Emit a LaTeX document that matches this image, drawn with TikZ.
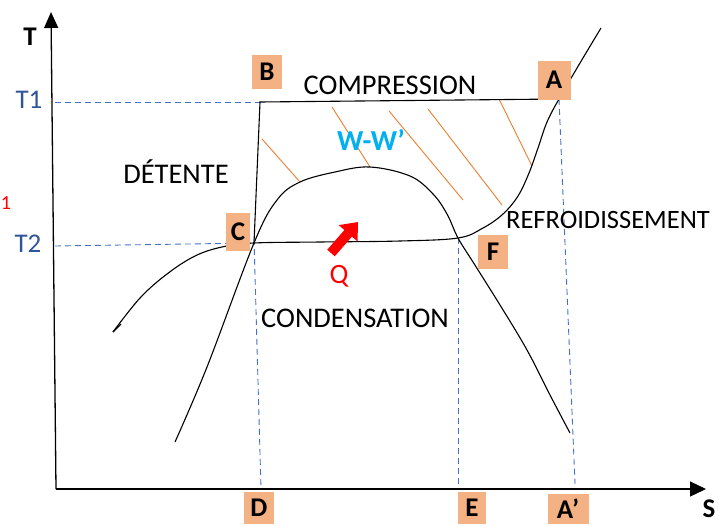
\documentclass[tikz,border=0pt]{standalone}
\usepackage{fontspec}
\setmainfont{Carlito}
\usetikzlibrary{arrows.meta}
\definecolor{boxorange}{HTML}{F4B183}
\definecolor{hatchorange}{HTML}{ED7D31}
\definecolor{tblue}{HTML}{2F5597}
\definecolor{wcyan}{HTML}{00B0F0}
\definecolor{guideblue}{HTML}{4472C4}
\tikzset{
  ptbox/.style={fill=boxorange, inner sep=0pt, minimum width=30pt, minimum height=34pt,
    font=\fontsize{27}{27}\selectfont\bfseries},
  phase/.style={font=\fontsize{28.5}{28.5}\selectfont},
  guide/.style={guideblue, line width=0.9pt, dash pattern=on 6pt off 4pt},
  curve/.style={line width=1.1pt},
  hatch/.style={hatchorange, line width=0.9pt},
}
\begin{document}
\begin{tikzpicture}[>=latex, x=1pt, y=-1pt]
    \useasboundingbox (0,0) rectangle (719,525);
    % points of the cycle
    \coordinate (O) at (56,489);
    \coordinate (B) at (260,102);
    \coordinate (A) at (559,99);
    \coordinate (C) at (254,243);
    \coordinate (E) at (458,238);
    \coordinate (D0) at (261,489);
    \coordinate (E0) at (458,484);
    \coordinate (A0) at (575,484);
    \coordinate (T1) at (55,102);
    \coordinate (T2) at (55,246);
    % axes
    \draw[line width=1.3pt, -{Triangle[length=16pt,width=14pt]}] (O) -- (51,12);
    \draw[line width=1.3pt, -{Triangle[length=16pt,width=15pt]}] (O) -- (706,489);
    \node[font=\fontsize{27}{27}\selectfont\bfseries] (Tlab) at (30,37) {T};
    \node[font=\fontsize{27}{27}\selectfont\bfseries] (Slab) at (709,509) {S};
    \node[tblue, font=\fontsize{27}{27}\selectfont] (T1lab) at (29,100) {T1};
    \node[tblue, font=\fontsize{27}{27}\selectfont] (T2lab) at (28,244) {T2};
    \node[red, font=\fontsize{20}{20}\selectfont] (one) at (6,203) {1};
    % guide lines
    \draw[guide] (T1) -- (B);
    \draw[guide] (T2) -- (C);
    \draw[guide] ([yshift=4pt]C) -- (D0);
    \draw[guide] (E) -- (E0);
    \draw[guide] (A) -- (A0);
    % hatching
    \draw[hatch] (262,139) -- (300,182);
    \draw[hatch] (332,107) -- (370,167);
    \draw[hatch] (389,111) -- (463,200);
    \draw[hatch] (428,109) -- (502,205);
    \draw[hatch] (499,99) -- (532,166);
    % cycle
    \draw[curve] (C) -- (B) -- (A);
    \draw[curve] plot[smooth, tension=0.6] coordinates {(601,28) (580,63) (A) (547,122) (538,148)
      (529,173) (518,196) (503,214) (483,228) (E) (400,241) (320,242) (C) (222,247)
      (195,256) (167,274) (140,298) (113,332)};
    \draw[curve] (113,332) -- (121,324);
    % saturation dome
    \draw[curve] plot[smooth, tension=0.6] coordinates {(175,442) (207,367) (C) (277,200)
      (300,182) (335,172) (370,167) (410,176) (433,194) (447,214) (E) (473,262)
      (500,305) (527,350) (550,395) (570,433)};
    % heat arrow
    \draw[red, line width=10pt, -{Triangle[length=15pt,width=24pt]}] (331,253) -- (358,222);
    \node[red, font=\fontsize{28}{28}\selectfont] (Q) at (339,276) {Q};
    % phase labels
    \node[phase] (comp) at (390,85) {COMPRESSION};
    \node[phase] (det) at (176,172) {DÉTENTE};
    \node[phase] (cond) at (355,318) {CONDENSATION};
    \node[phase, font=\fontsize{26.5}{26.5}\selectfont] (refr) at (608,220) {REFROIDISSEMENT};
    \node[wcyan, font=\fontsize{29}{29}\selectfont\bfseries] (work) at (371,140) {W-W’};
    % point labels
    \node[ptbox] (boxB) at (267,72) {B};
    \node[ptbox, minimum width=33pt, minimum height=39pt] (boxA) at (554,80) {A};
    \node[ptbox, minimum width=24pt, minimum height=38pt] (boxC) at (238,232) {C};
    \node[ptbox] (boxF) at (493,252) {F};
    \node[ptbox, minimum height=32pt] (boxD) at (259,508) {D};
    \node[ptbox, minimum width=28pt, minimum height=32pt] (boxE) at (472,508) {E};
    \node[ptbox, minimum width=41pt, minimum height=30pt] (boxA0) at (568,509) {A’};
\end{tikzpicture}
\end{document}
